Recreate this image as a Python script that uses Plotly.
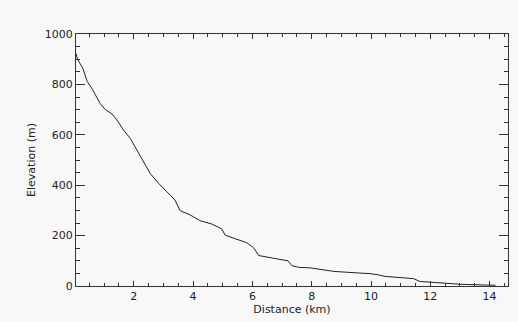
import plotly.graph_objects as go

distance_km = [0.05, 0.10, 0.28, 0.43, 0.58, 0.75, 0.86, 1.03, 1.26, 1.43, 1.65, 1.88,
               2.04, 2.27, 2.55, 2.83, 3.17, 3.39, 3.56, 3.90, 4.24, 4.63, 4.97, 5.08,
               5.48, 5.81, 6.04, 6.21, 6.71, 7.20, 7.33, 7.56, 7.95, 8.74, 9.53, 9.97,
               10.26, 10.47, 11.15, 11.44, 11.65, 12.0, 12.44, 13.0, 13.5, 13.9, 14.2]
elevation_m = [923, 900, 864, 811, 785, 751, 725, 701, 683, 659, 619, 586,
               553, 507, 447, 408, 368, 341, 299, 282, 259, 246, 226, 202,
               185, 172, 152, 121, 110, 100, 81, 74, 72, 58, 52, 49,
               44, 38, 32, 29, 18, 15, 11, 7, 5, 5, 3]

x_ticks = [2, 4, 6, 8, 10, 12, 14]
y_ticks = [0, 200, 400, 600, 800, 1000]

fig = go.Figure(go.Scatter(x=distance_km, y=elevation_m, mode="lines",
                           line=dict(color="#222222", width=1)))

font = dict(family="DejaVu Sans", size=11, color="#222222")
fig.update_layout(
    width=518, height=322,
    margin=dict(l=76, r=10, t=34, b=36),
    paper_bgcolor="#f8f8f8", plot_bgcolor="#f8f8f8",
    showlegend=False, font=font,
)
fig.update_xaxes(
    range=[0.05, 14.62], tickvals=x_ticks, ticks="inside", ticklen=5, tickwidth=1,
    tickcolor="#333333", showline=True, linecolor="#333333", linewidth=1, mirror="ticks",
    showgrid=False, zeroline=False,
    minor=dict(dtick=0.5, tick0=0, ticks="inside", ticklen=3, tickcolor="#333333", showgrid=False),
    title=dict(text="Distance (km)", standoff=2, font=font), tickfont=font,
)
fig.update_yaxes(
    range=[0, 1000], tickvals=y_ticks, ticks="inside", ticklen=9, tickwidth=1,
    tickcolor="#333333", showline=True, linecolor="#333333", linewidth=1, mirror="ticks",
    showgrid=False, zeroline=False,
    minor=dict(dtick=50, tick0=0, ticks="inside", ticklen=4, tickcolor="#333333", showgrid=False),
    title=dict(text="Elevation (m)", standoff=6, font=font), tickfont=font,
)
fig.write_html("out.html", config={"displayModeBar": False},
               post_script="document.body.style.margin='0';document.body.style.background='#f8f8f8';")
